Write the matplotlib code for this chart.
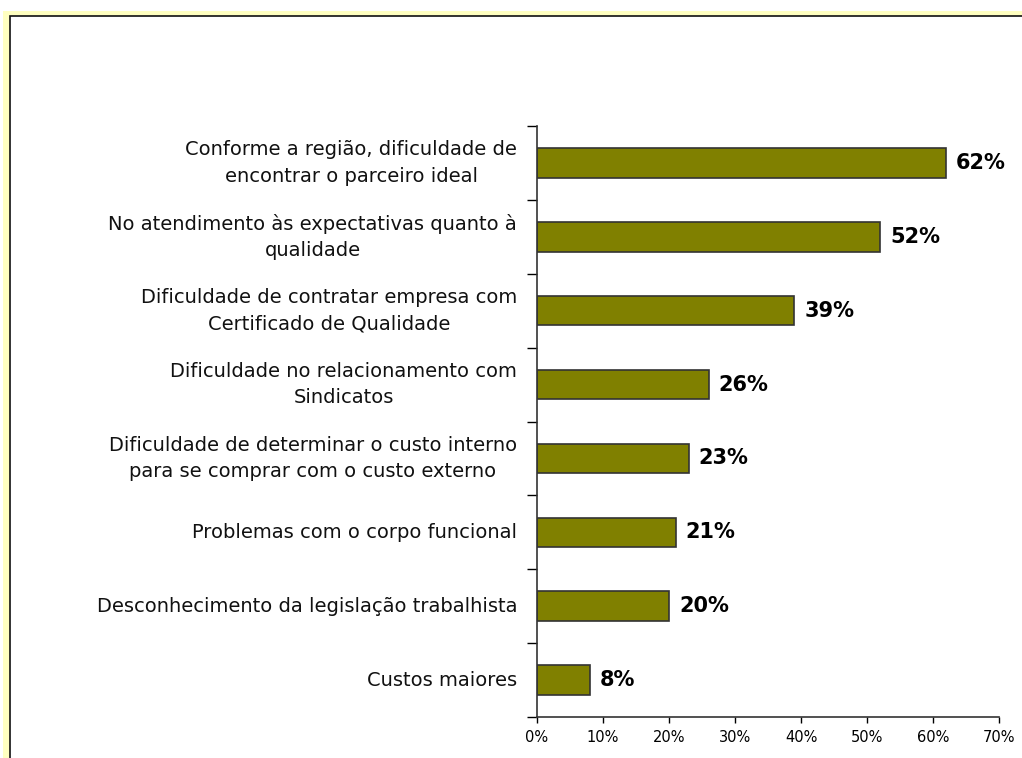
import matplotlib.pyplot as plt
from matplotlib.patches import Rectangle
from matplotlib.ticker import FuncFormatter

plt.rcParams['font.family'] = ['DejaVu Sans']

# dados (de cima para baixo)
categorias = [
    "Conforme a região, dificuldade de\nencontrar o parceiro ideal",
    "No atendimento às expectativas quanto à\nqualidade",
    "Dificuldade de contratar empresa com\nCertificado de Qualidade",
    "Dificuldade no relacionamento com\nSindicatos",
    "Dificuldade de determinar o custo interno\npara se comprar com o custo externo",
    "Problemas com o corpo funcional",
    "Desconhecimento da legislação trabalhista",
    "Custos maiores",
]
valores = [62, 52, 39, 26, 23, 21, 20, 8]

fig = plt.figure(figsize=(10.22, 7.58), dpi=100)
W, H = 1022, 758

# moldura amarela + borda preta
fig.add_artist(Rectangle((3 / W, -0.01), 1, 1 - 11 / H + 0.01, transform=fig.transFigure,
                         facecolor='#FFFFC0', edgecolor='none', zorder=-10))
fig.add_artist(Rectangle((9.5 / W, -0.01), 1, 1 - 15.5 / H + 0.01, transform=fig.transFigure,
                         facecolor='white', edgecolor='#111111', linewidth=1.2, zorder=-9))

ax = fig.add_axes([537 / W, 1 - 717 / H, (999 - 537) / W, (717 - 126) / H])
ax.set_facecolor('none')

n = len(valores)
pos = list(range(n))
ax.barh(pos, valores, height=0.4, color='#808000', edgecolor='#333333', linewidth=1.2)
ax.set_ylim(n - 0.5, -0.5)
ax.set_xlim(0, 70)

for p, v in zip(pos, valores):
    ax.text(v + 1.5, p, f"{v}%", va='center', ha='left', fontsize=15,
            fontweight='bold', color='black')

ax.set_xticks(range(0, 71, 10))
ax.xaxis.set_major_formatter(FuncFormatter(lambda x, _: f"{int(x)}%"))
ax.tick_params(axis='x', labelsize=10.5, length=4, width=1, direction='out', pad=5)

# rótulos das categorias e ticks entre categorias
ax.set_yticks([i - 0.5 for i in range(n + 1)])
ax.set_yticklabels([])
ax.tick_params(axis='y', length=7, width=1, direction='out')
for p, c in zip(pos, categorias):
    ax.text(-20 / 462 * 70, p, c, ha='right', va='center', multialignment='center',
            fontsize=14, color='#111111', linespacing=1.5)

for s in ['top', 'right']:
    ax.spines[s].set_visible(False)
for s in ['left', 'bottom']:
    ax.spines[s].set_color('#333333')
    ax.spines[s].set_linewidth(1.2)

fig.savefig('out.png', dpi=100)
